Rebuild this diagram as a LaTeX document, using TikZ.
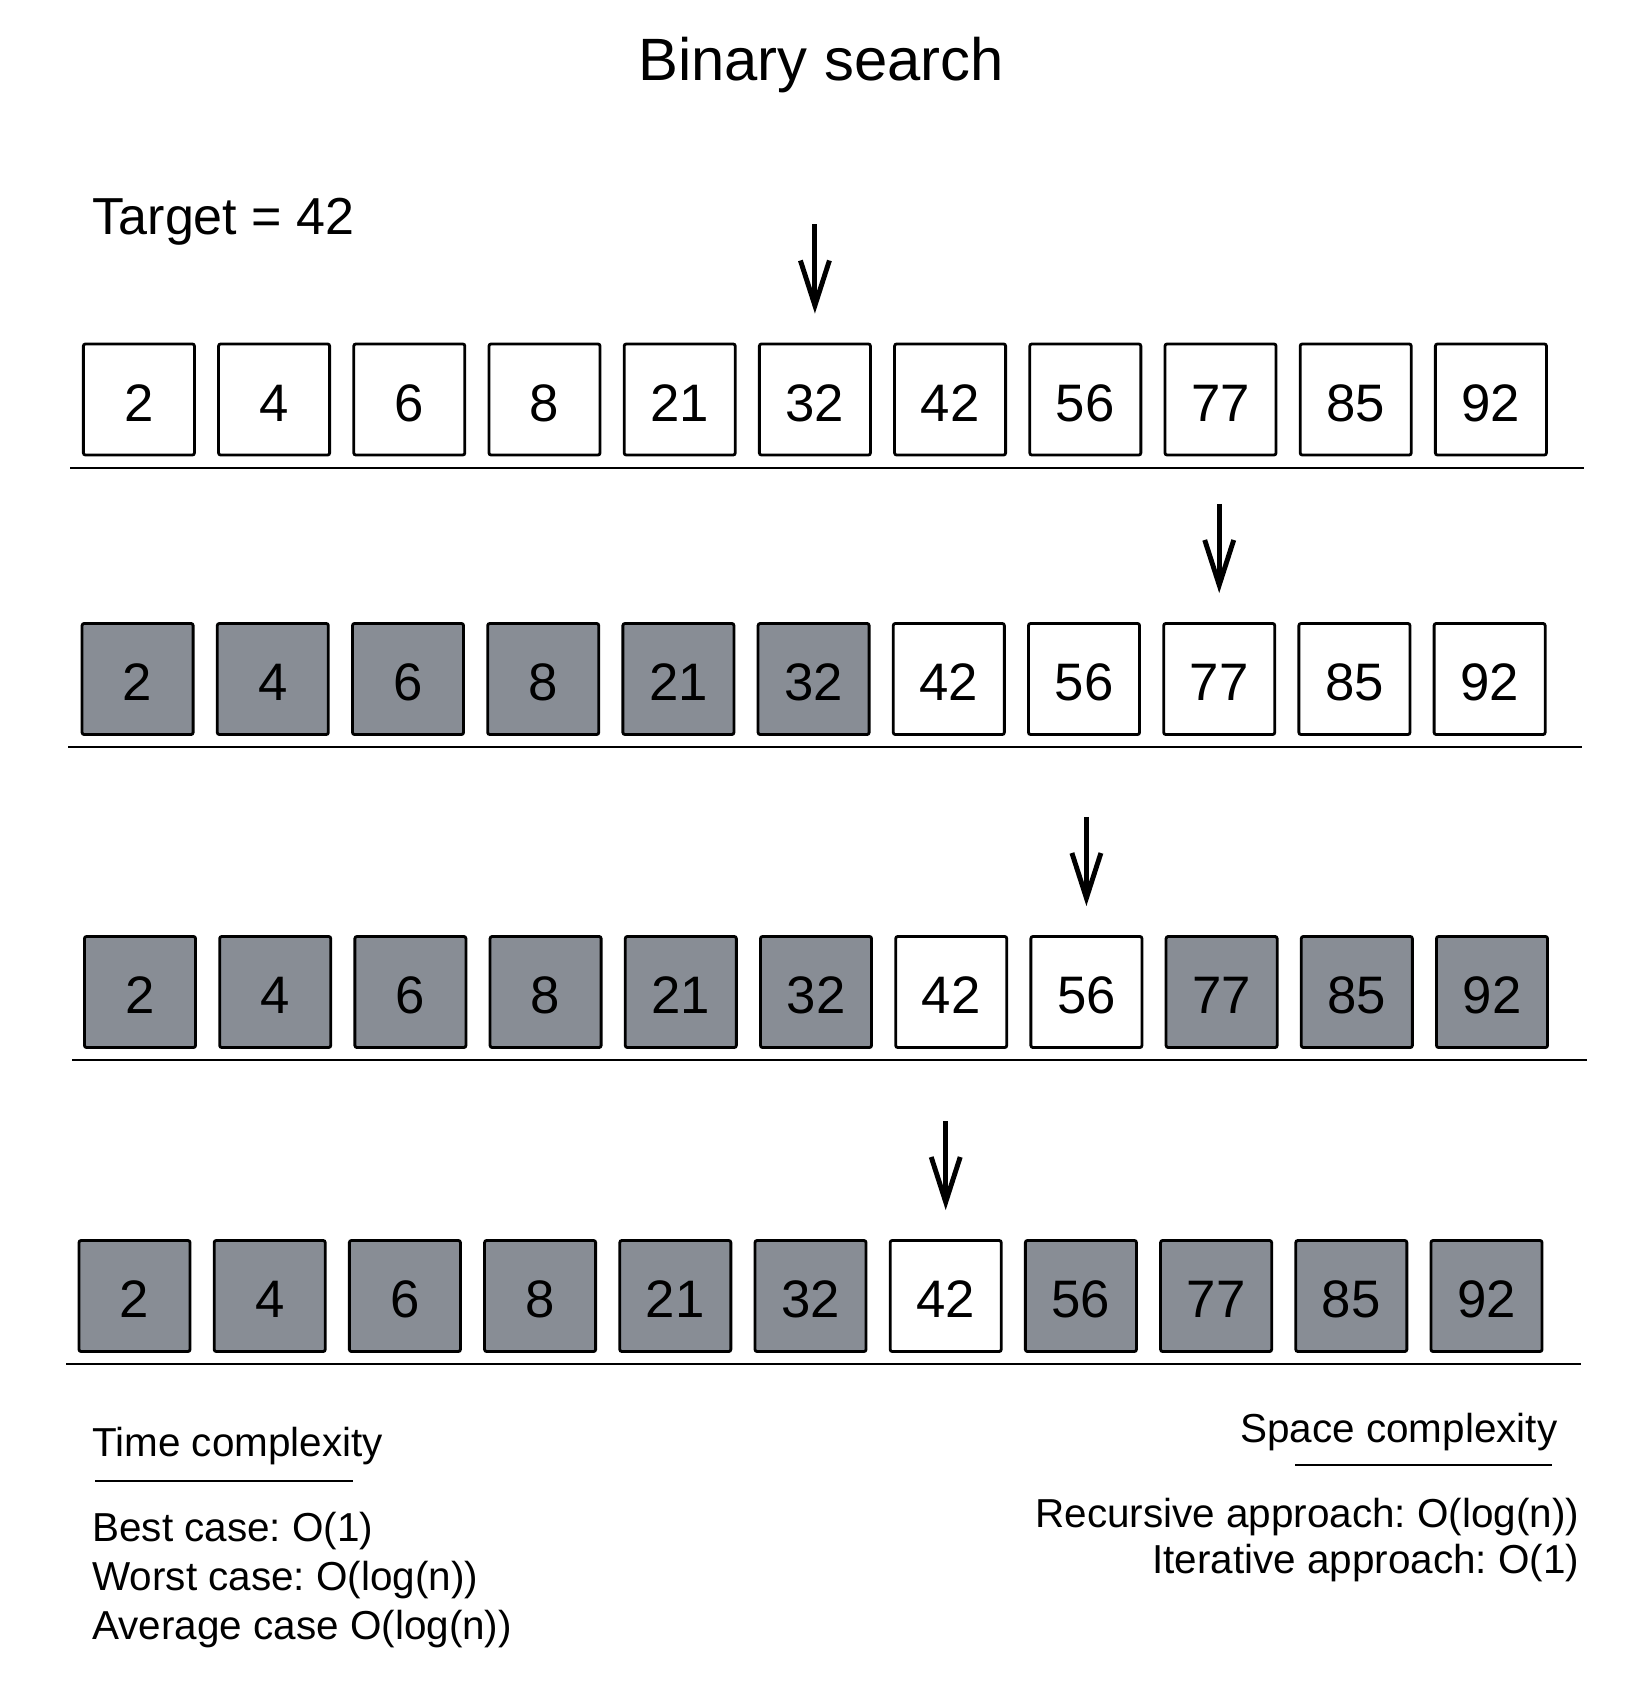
\documentclass[tikz,border=0pt]{standalone}
\usepackage{fontspec}
\setmainfont{Liberation Sans}
\usepackage{tikz}
\usetikzlibrary{arrows.meta,positioning,calc}
\definecolor{discard}{RGB}{136,141,149}
\frenchspacing

\begin{document}
\begin{tikzpicture}[
  x=0.01cm, y=-0.01cm,
  cell/.style={draw,line width=0.8pt,rounded corners=0.6pt,minimum width=1.11cm,minimum height=1.11cm,inner sep=0pt,text height=12.4pt,text depth=0pt,fill=white,font=\fontsize{15}{18}\selectfont},
  gonecell/.style={cell,fill=discard},
  divider/.style={line width=0.8pt},
  ptr/.style={-{Straight Barb[length=4.5mm,width=2.9mm]},line width=1.4pt},
  txt/.style={inner sep=0pt,font=\fontsize{11.5}{14}\selectfont}]
\useasboundingbox (0,0) rectangle (1634,1692);

\node[anchor=base,font=\fontsize{17}{20}\selectfont] (title) at (821,81) {Binary search};
\node[anchor=base west,inner sep=0pt,font=\fontsize{14.8}{17}\selectfont] (target) at (92,235) {Target = 42};

% step 1: whole array
\foreach \v [count=\i] in {2,4,6,8,21,32,42,56,77,85,92}
  \node[cell] (a\i) at ({138.9+(\i-1)*135.2},399.5) {\v};
\draw[divider] (70,468) -- (1584,468);

% step 2: left half dropped
\foreach \v [count=\i] in {2,4,6,8,21,32,42,56,77,85,92} {
  \ifnum\i<7 \def\look{gonecell}\else\def\look{cell}\fi
  \node[\look] (b\i) at ({137.6+(\i-1)*135.2},679) {\v};
}
\draw[divider] (68,747) -- (1582,747);

% step 3
\foreach \v [count=\i] in {2,4,6,8,21,32,42,56,77,85,92} {
  \ifnum\i<7 \def\look{gonecell}\else\ifnum\i>8 \def\look{gonecell}\else\def\look{cell}\fi\fi
  \node[\look] (c\i) at ({140+(\i-1)*135.2},992) {\v};
}
\draw[divider] (72,1060) -- (1587,1060);

% step 4: found
\foreach \v [count=\i] in {2,4,6,8,21,32,42,56,77,85,92} {
  \ifnum\i=7 \def\look{cell}\else\def\look{gonecell}\fi
  \node[\look] (d\i) at ({134.5+(\i-1)*135.2},1296) {\v};
}
\draw[divider] (66,1364) -- (1581,1364);

% middle pointers
\foreach \r/\k in {a/6,b/9,c/8,d/7}
  \draw[ptr] ([yshift=11.8mm]\r\k.north) -- ([yshift=2.9mm]\r\k.north);

% complexity notes
\node[txt,anchor=base west] (time) at (91.7,1456.7) {Time complexity};
\draw[divider] (95,1481) -- (353,1481);
\node[txt,anchor=base west] (best) at (91.7,1541.7) {Best case: O(1)};
\node[txt,anchor=base west] (worst) at (91.7,1590.7) {Worst case: O(log(n))};
\node[txt,anchor=base west] (avg) at (91.7,1639) {Average case O(log(n))};

\node[txt,anchor=base east] (space) at (1558,1442) {Space complexity};
\draw[divider] (1295,1465) -- (1552,1465);
\node[txt,anchor=base east] (rec) at (1580,1527) {Recursive approach: O(log(n))};
\node[txt,anchor=base east] (iter) at (1580,1573) {Iterative approach: O(1)};
\end{tikzpicture}
\end{document}
